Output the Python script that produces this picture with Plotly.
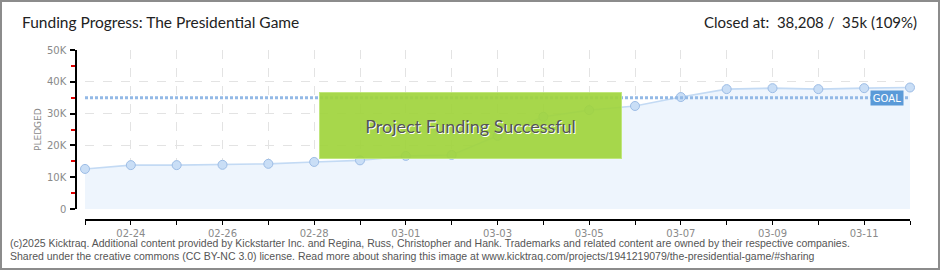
import plotly.graph_objects as go

# ---- data ----
dates = ['2016-02-23', '2016-02-24', '2016-02-25', '2016-02-26', '2016-02-27',
         '2016-02-28', '2016-02-29', '2016-03-01', '2016-03-02', '2016-03-03',
         '2016-03-04', '2016-03-05', '2016-03-06', '2016-03-07', '2016-03-08',
         '2016-03-09', '2016-03-10', '2016-03-11', '2016-03-12']
pledged = [12600, 13800, 13800, 13900, 14200, 14800, 15300, 16700, 17000, 23000,
           29000, 31100, 32400, 35200, 37700, 38000, 37700, 38000, 38208]
goal = 35000
y_tickvals = [0, 10000, 20000, 30000, 40000, 50000]
y_ticktext = ['0', '10K', '20K', '30K', '40K', '50K']
title_text = 'Funding Progress: The Presidential Game'
closed_text = 'Closed at:  38,208 /  35k (109%)'
success_text = 'Project Funding Successful'
footer1 = ('(c)2025 Kicktraq. Additional content provided by Kickstarter Inc. and Regina, Russ, '
           'Christopher and Hank. Trademarks and related content are owned by their respective companies.')
footer2 = ('Shared under the creative commons (CC BY-NC 3.0) license. Read more about sharing this image '
           'at www.kicktraq.com/projects/1941219079/the-presidential-game/#sharing')

W, H = 940, 270
ML, MR, MT, MB = 76, 30, 50, 50
PW, PH = W - ML - MR, H - MT - MB


def px(x):
    return (x - ML) / PW


def py(y):
    return (H - MB - y) / PH


NARROW = 'Lato, Roboto, sans-serif'
TICKF = dict(family='DejaVu Sans, sans-serif', size=10, color='#8a8a8a')

fig = go.Figure()

fig.add_trace(go.Scatter(
    x=dates, y=pledged, mode='lines+markers', fill='tozeroy',
    fillcolor='#eef5fd', line=dict(color='#c3daf4', width=1.6),
    marker=dict(size=9, color='#c9def6', line=dict(color='#9dbde6', width=1)),
    cliponaxis=False, hoverinfo='skip', showlegend=False))

fig.add_trace(go.Scatter(
    x=[dates[0], dates[-1]], y=[goal, goal], mode='lines',
    line=dict(color='#93b9e6', width=3, dash='3px,2px'),
    hoverinfo='skip', showlegend=False))

grid = dict(showgrid=True, gridcolor='#e3e3e3', griddash='dash', gridwidth=1)

fig.update_layout(
    width=W, height=H, margin=dict(l=ML, r=MR, t=MT, b=MB),
    paper_bgcolor='white', plot_bgcolor='white',
    xaxis=dict(
        type='date', range=[dates[0], dates[-1]], domain=[9 / PW, 1],
        anchor='free', position=0,
        tick0='2016-02-24', dtick=2 * 86400000, tickformat='%m-%d',
        ticks='outside', ticklen=4, tickcolor='#000', tickwidth=1,
        showline=True, linecolor='#000', linewidth=1.5,
        tickfont=TICKF, zeroline=False,
        minor=dict(dtick=86400000, ticks='outside', ticklen=4, tickcolor='#000',
                   showgrid=True, gridcolor='#e3e3e3', griddash='dash'),
        **grid),
    yaxis=dict(
        range=[0, 50000], domain=[11 / PH, 1], anchor='free', position=0,
        tickvals=y_tickvals, ticktext=y_ticktext,
        ticks='outside', ticklen=5, tickcolor='#000', tickwidth=1.5,
        showline=True, linecolor='#000', linewidth=1.5,
        tickfont=TICKF, zeroline=False, ticklabelstandoff=2,
        minor=dict(dtick=5000, tick0=0, ticks='outside', ticklen=4, tickcolor='#e00000',
                   tickwidth=1.5, showgrid=False),
        **grid),
)

ann = []
ann.append(dict(text=title_text, xref='paper', yref='paper', x=px(20), y=py(22),
                xanchor='left', yanchor='middle', showarrow=False,
                font=dict(family=NARROW, size=15.5, color='#222')))
ann.append(dict(text=closed_text, xref='paper', yref='paper', x=px(919), y=py(22),
                xanchor='right', yanchor='middle', showarrow=False,
                font=dict(family=NARROW, size=15, color='#222')))
ann.append(dict(text='PLEDGED', xref='paper', yref='paper', x=px(38), y=py(130),
                xanchor='center', yanchor='middle', textangle=-90, showarrow=False,
                font=dict(family='DejaVu Sans, sans-serif', size=9, color='#8a8a8a')))
ann.append(dict(text='GOAL', xref='x', yref='y', x=dates[-1], y=goal,
                xanchor='right', yanchor='middle', xshift=-6, showarrow=False,
                bgcolor='#5a9ad8', borderpad=1, width=30, height=12,
                font=dict(family='DejaVu Sans, sans-serif', size=10, color='white')))
ann.append(dict(text=success_text, xref='paper', yref='paper', x=px(470.5), y=py(125),
                xanchor='center', yanchor='middle', showarrow=False,
                width=301, height=65, bgcolor='rgba(160,212,60,0.92)',
                bordercolor='rgba(190,230,120,0.9)', borderwidth=1, borderpad=0,
                font=dict(family=NARROW, size=18, color='#555',
                          shadow='1px 1px 0px #ffffff')))
ann.append(dict(text=footer1, xref='paper', yref='paper', x=px(8), y=py(243),
                xanchor='left', yanchor='middle', showarrow=False,
                font=dict(family='Liberation Sans, Arial, sans-serif', size=10.5, color='#555')))
ann.append(dict(text=footer2, xref='paper', yref='paper', x=px(8), y=py(256),
                xanchor='left', yanchor='middle', showarrow=False,
                font=dict(family='Liberation Sans, Arial, sans-serif', size=10.5, color='#555')))
fig.update_layout(annotations=ann)

fig.add_shape(type='rect', xref='paper', yref='paper',
              x0=px(1), x1=px(W - 1), y0=py(H - 1), y1=py(1),
              line=dict(color='#8c8c8c', width=2), fillcolor='rgba(0,0,0,0)', layer='above')

fig.write_html('out.html')
